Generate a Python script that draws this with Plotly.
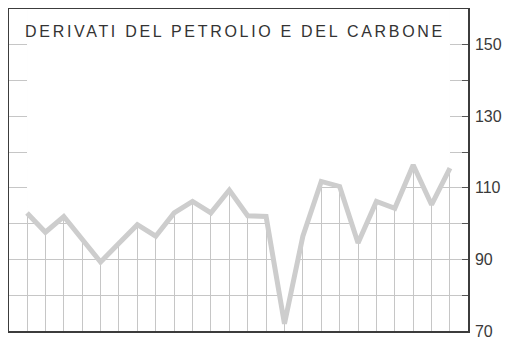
import plotly.graph_objects as go

# Data (index positions along the x axis)
periods = list(range(24))
values = [103, 97.6, 102, 95.6, 89.3, 94.5, 99.7, 96.5, 103, 106.2, 103, 109.4,
          102.2, 102, 72, 96.5, 111.8, 110.4, 94.6, 106.2, 104.3, 116.4, 105.3, 115.5]
tick_vals = [70, 80, 90, 100, 110, 120, 130, 140, 150, 160]
tick_text = ["70", "", "90", "", "110", "", "130", "", "150", ""]
title_text = "DERIVATI DEL PETROLIO E DEL CARBONE"
y_top = 160

fig = go.Figure()
# invisible top boundary used to mask the grid above the line
fig.add_trace(go.Scatter(x=periods, y=[y_top] * len(periods), mode="lines",
                         line=dict(width=0), hoverinfo="skip", showlegend=False))
fig.add_trace(go.Scatter(x=periods, y=values, mode="lines", fill="tonexty",
                         fillcolor="white",
                         line=dict(color="#cdcdcd", width=5),
                         showlegend=False))

# the page body has an 8px margin, so the figure is sized to fit the rest
fig.update_layout(
    width=502, height=331,
    margin=dict(l=1, r=42, t=1, b=8, autoexpand=False),
    paper_bgcolor="white", plot_bgcolor="white",
    font=dict(family="Liberation Sans, Arial, sans-serif", color="#3a3a3a"),
    annotations=[dict(text='<span style="letter-spacing:2.7px">' + title_text + '</span>',
                      x=0.4913, xref="x domain", xanchor="center",
                      y=0.931, yref="paper", yanchor="middle", showarrow=False,
                      font=dict(size=16, color="#333333"))],
)

fig.update_xaxes(range=[-0.98, 23.98], tick0=0, dtick=1, showgrid=True,
                 gridcolor="#c6c6c6", gridwidth=1, zeroline=False,
                 showticklabels=False, ticks="", automargin=False,
                 showline=True, mirror=True, linecolor="#3c3c3c", linewidth=1.5)
fig.update_yaxes(range=[70, 160], side="right", tickvals=tick_vals, ticktext=tick_text,
                 showgrid=True, gridcolor="#c6c6c6", gridwidth=1, zeroline=False,
                 ticks="inside", ticklen=6, tickcolor="#555555", tickwidth=1,
                 ticklabelstandoff=2, ticklabeloverflow="allow", automargin=False,
                 tickfont=dict(size=16, color="#3a3a3a"),
                 showline=True, mirror=True, linecolor="#3c3c3c", linewidth=1.5)

fig.write_html("out.html")
